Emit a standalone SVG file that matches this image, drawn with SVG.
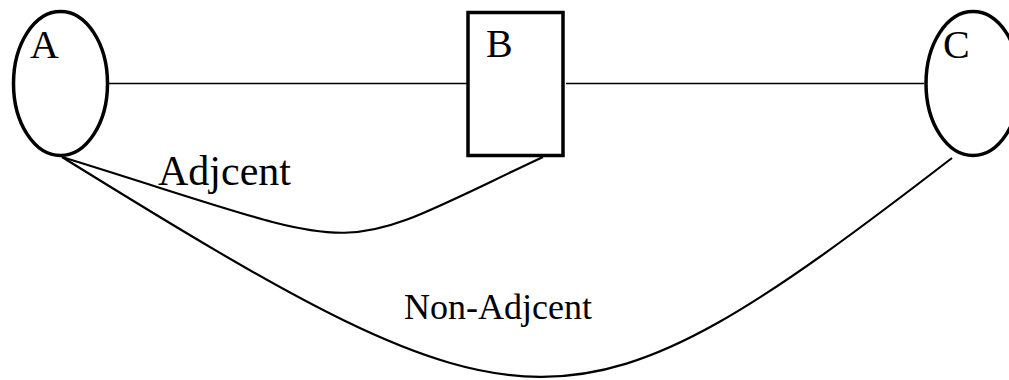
<svg xmlns="http://www.w3.org/2000/svg" width="1009" height="380" viewBox="0 0 1009 380">
<style>
.node{fill:#fff;stroke:#000;stroke-width:3.5}
.edge{fill:none;stroke:#000;stroke-width:2.2}
.hline{fill:none;stroke:#000;stroke-width:1.5}
text{font-family:"Liberation Serif","Times New Roman",serif;fill:#000}
.lbl{font-size:40px}
</style>
<rect width="1009" height="380" fill="#fff"/>
<g id="connectors">
<line class="hline" x1="109" y1="83.5" x2="467" y2="83.5"/>
<line class="hline" x1="566" y1="83.5" x2="924" y2="83.5"/>
<path id="adjacent" class="edge" d="M62,157 C382,256 323,260 543,157"/>
<path id="nonadjacent" class="edge" d="M62,157 C532,448 570,452 952,158"/>
</g>
<g id="node-A">
<ellipse class="node" cx="60.5" cy="83.5" rx="47" ry="72"/>
<text class="lbl" x="30" y="58">A</text>
</g>
<g id="node-B">
<rect class="node" x="468" y="12.5" width="95" height="143"/>
<text class="lbl" x="486" y="57">B</text>
</g>
<g id="node-C">
<ellipse class="node" cx="973" cy="83.5" rx="47" ry="72"/>
<text class="lbl" x="943" y="58">C</text>
</g>
<g id="labels">
<text x="158" y="185" font-size="42">Adjcent</text>
<text x="404" y="319" font-size="36">Non-Adjcent</text>
</g>
</svg>
